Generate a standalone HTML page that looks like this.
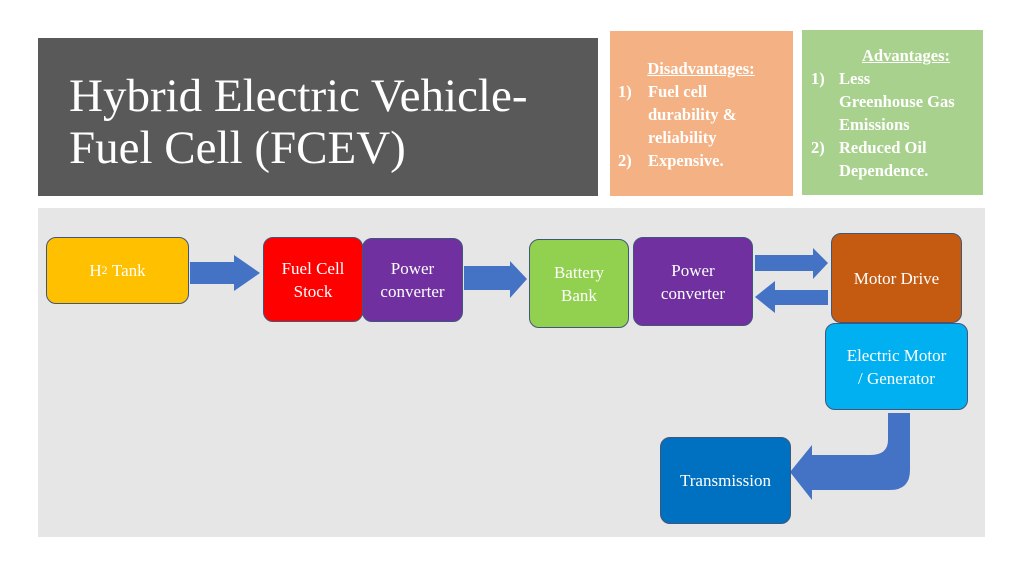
<!DOCTYPE html>
<html><head><meta charset="utf-8"><style>
body{margin:0;width:1024px;height:576px;background:#fff;position:relative;overflow:hidden;font-family:"Liberation Serif",serif;}
.a{position:absolute;box-sizing:border-box;}
.n{position:absolute;box-sizing:border-box;border-radius:10px;border:1px solid #41577a;color:#fff;display:flex;align-items:center;justify-content:center;text-align:center;font-size:17px;line-height:23px;}
.t{color:#fff;font-weight:bold;font-size:16.5px;line-height:23px;}
.li{display:flex;}
.li b{display:inline-block;flex:none;}
</style></head><body>
<div class="a" style="left:38px;top:38px;width:560px;height:158px;background:#595959;"></div>
<div class="a" style="left:69px;top:70px;color:#fff;font-size:47px;line-height:52px;white-space:nowrap;">Hybrid Electric Vehicle-<br>Fuel Cell (FCEV)</div>
<div class="a" style="left:610px;top:31px;width:183px;height:165px;background:#f4b183;"></div>
<div class="a t" style="left:618px;top:57px;width:175px;">
<div style="text-align:center;text-decoration:underline;margin-left:8px;width:150px;">Disadvantages:</div>
<div class="li"><b style="width:30px">1)</b><span>Fuel cell<br>durability &amp;<br>reliability</span></div>
<div class="li"><b style="width:30px">2)</b><span>Expensive.</span></div></div>
<div class="a" style="left:802px;top:30px;width:181px;height:165px;background:#a9d18e;"></div>
<div class="a t" style="left:811px;top:44px;width:172px;">
<div style="text-align:center;text-decoration:underline;margin-left:20px;width:150px;">Advantages:</div>
<div class="li"><b style="width:28px">1)</b><span>Less<br>Greenhouse Gas<br>Emissions</span></div>
<div class="li"><b style="width:28px">2)</b><span>Reduced Oil<br>Dependence.</span></div></div>
<div class="a" style="left:38px;top:208px;width:947px;height:329px;background:#e6e6e6;"></div>
<svg class="a" style="left:0;top:0" width="1024" height="576">
<g fill="#4472c4">
<polygon points="190,262 234,262 234,255 260,273 234,291 234,284 190,284"/>
<polygon points="464,266 510,266 510,261 527,279 510,298 510,290 464,290"/>
<polygon points="755,255 813,255 813,248 828,263 813,279 813,271 755,271"/>
<polygon points="828,290 775,290 775,281 755,297 775,313 775,305 828,305"/>
<path d="M888,413 L910,413 L910,470 Q910,490 890,490 L812,490 L812,500 L790,472 L812,445 L812,455 L870,455 Q888,455 888,440 Z"/>
</g></svg>
<div class="n" style="left:46px;top:237px;width:143px;height:67px;background:#ffc000;">H<span style="font-size:12px">2</span>&nbsp;Tank</div>
<div class="n" style="left:263px;top:237px;width:100px;height:85px;background:#ff0000;">Fuel Cell<br>Stock</div>
<div class="n" style="left:362px;top:238px;width:101px;height:84px;background:#7030a0;">Power<br>converter</div>
<div class="n" style="left:529px;top:239px;width:100px;height:89px;background:#92d050;">Battery<br>Bank</div>
<div class="n" style="left:633px;top:237px;width:120px;height:89px;background:#7030a0;">Power<br>converter</div>
<div class="n" style="left:831px;top:233px;width:131px;height:90px;background:#c55a11;">Motor Drive</div>
<div class="n" style="left:825px;top:323px;width:143px;height:87px;background:#00b0f0;">Electric Motor<br>/ Generator</div>
<div class="n" style="left:660px;top:437px;width:131px;height:87px;background:#0070c0;">Transmission</div>
</body></html>
